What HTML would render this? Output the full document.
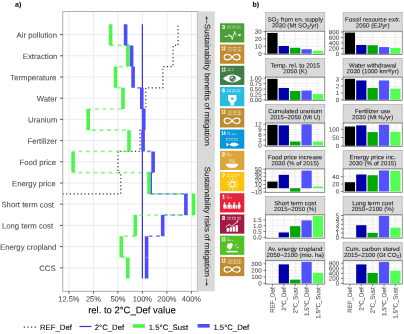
<!DOCTYPE html>
<html><head><meta charset="utf-8"><style>
html,body{margin:0;padding:0;background:#fff;overflow:hidden;}
svg{display:block;will-change:transform;font-family:"Liberation Sans",sans-serif;}
</style></head><body>
<svg xmlns="http://www.w3.org/2000/svg" width="404" height="334" viewBox="0 0 404 334" font-family="Liberation Sans, sans-serif">
<rect width="404" height="334" fill="#fff"/>
<rect x="62.8" y="11.4" width="134.5" height="279.90000000000003" fill="#fff"/>
<line x1="68.90" y1="11.4" x2="68.90" y2="291.3" stroke="#ebebeb" stroke-width="1"/>
<line x1="93.40" y1="11.4" x2="93.40" y2="291.3" stroke="#ebebeb" stroke-width="1"/>
<line x1="117.90" y1="11.4" x2="117.90" y2="291.3" stroke="#ebebeb" stroke-width="1"/>
<line x1="142.40" y1="11.4" x2="142.40" y2="291.3" stroke="#ebebeb" stroke-width="1"/>
<line x1="166.90" y1="11.4" x2="166.90" y2="291.3" stroke="#ebebeb" stroke-width="1"/>
<line x1="191.40" y1="11.4" x2="191.40" y2="291.3" stroke="#ebebeb" stroke-width="1"/>
<line x1="62.8" y1="34.60" x2="197.3" y2="34.60" stroke="#ebebeb" stroke-width="1"/>
<line x1="62.8" y1="55.80" x2="197.3" y2="55.80" stroke="#ebebeb" stroke-width="1"/>
<line x1="62.8" y1="77.00" x2="197.3" y2="77.00" stroke="#ebebeb" stroke-width="1"/>
<line x1="62.8" y1="98.20" x2="197.3" y2="98.20" stroke="#ebebeb" stroke-width="1"/>
<line x1="62.8" y1="119.40" x2="197.3" y2="119.40" stroke="#ebebeb" stroke-width="1"/>
<line x1="62.8" y1="140.60" x2="197.3" y2="140.60" stroke="#ebebeb" stroke-width="1"/>
<line x1="62.8" y1="161.80" x2="197.3" y2="161.80" stroke="#ebebeb" stroke-width="1"/>
<line x1="62.8" y1="183.00" x2="197.3" y2="183.00" stroke="#ebebeb" stroke-width="1"/>
<line x1="62.8" y1="204.20" x2="197.3" y2="204.20" stroke="#ebebeb" stroke-width="1"/>
<line x1="62.8" y1="225.40" x2="197.3" y2="225.40" stroke="#ebebeb" stroke-width="1"/>
<line x1="62.8" y1="246.60" x2="197.3" y2="246.60" stroke="#ebebeb" stroke-width="1"/>
<line x1="62.8" y1="267.80" x2="197.3" y2="267.80" stroke="#ebebeb" stroke-width="1"/>
<clipPath id="pa"><rect x="62.8" y="11.4" width="134.5" height="279.90000000000003"/></clipPath>
<g clip-path="url(#pa)">
<path d="M178.1,24.2 V45.4 H173.1 V66.6 H162.9 V87.8 H145.8 V109.0 H144.0 V130.2 H140.0 V151.39999999999998 H118.0 V172.6 H120.8 V193.79999999999998 H40.0" fill="none" stroke="#333" stroke-width="1.2" stroke-dasharray="1.2 2.45" stroke-dashoffset="2.4"/>
<line x1="142.4" y1="24.2" x2="142.4" y2="278.59999999999997" stroke="#3535d0" stroke-width="1.2"/>
<line x1="125.6" y1="45.40" x2="131.6" y2="45.40" stroke="#4d4dff" stroke-width="1.7" stroke-dasharray="3.75 3.75" stroke-dashoffset="0.00" opacity="0.65"/>
<line x1="131.6" y1="66.60" x2="133.1" y2="66.60" stroke="#4d4dff" stroke-width="1.7" stroke-dasharray="3.75 3.75" stroke-dashoffset="0.00" opacity="0.65"/>
<line x1="133.1" y1="87.80" x2="141.8" y2="87.80" stroke="#4d4dff" stroke-width="1.7" stroke-dasharray="3.75 3.75" stroke-dashoffset="3.30" opacity="0.65"/>
<line x1="141.8" y1="109.00" x2="143.8" y2="109.00" stroke="#4d4dff" stroke-width="1.7" stroke-dasharray="3.75 3.75" stroke-dashoffset="0.00" opacity="0.65"/>
<line x1="143.1" y1="130.20" x2="143.8" y2="130.20" stroke="#4d4dff" stroke-width="1.7" stroke-dasharray="3.75 3.75" stroke-dashoffset="0.00" opacity="0.65"/>
<line x1="143.1" y1="151.40" x2="153.1" y2="151.40" stroke="#4d4dff" stroke-width="1.7" stroke-dasharray="3.75 3.75" stroke-dashoffset="3.60" opacity="0.65"/>
<line x1="150.2" y1="172.60" x2="153.1" y2="172.60" stroke="#4d4dff" stroke-width="1.7" stroke-dasharray="3.75 3.75" stroke-dashoffset="0.00" opacity="0.65"/>
<line x1="150.2" y1="193.80" x2="185.9" y2="193.80" stroke="#4d4dff" stroke-width="1.7" stroke-dasharray="3.75 3.75" stroke-dashoffset="7.15" opacity="0.65"/>
<line x1="162.7" y1="215.00" x2="185.9" y2="215.00" stroke="#4d4dff" stroke-width="1.7" stroke-dasharray="3.75 3.75" stroke-dashoffset="6.20" opacity="0.65"/>
<line x1="146.6" y1="236.20" x2="162.7" y2="236.20" stroke="#4d4dff" stroke-width="1.7" stroke-dasharray="3.75 3.75" stroke-dashoffset="5.40" opacity="0.65"/>
<line x1="110.6" y1="45.40" x2="127.9" y2="45.40" stroke="#4cf54c" stroke-width="1.7" stroke-dasharray="3.75 3.75" stroke-dashoffset="0.40" opacity="0.65"/>
<line x1="115.5" y1="66.60" x2="127.9" y2="66.60" stroke="#4cf54c" stroke-width="1.7" stroke-dasharray="3.75 3.75" stroke-dashoffset="3.90" opacity="0.65"/>
<line x1="115.5" y1="87.80" x2="123.0" y2="87.80" stroke="#4cf54c" stroke-width="1.7" stroke-dasharray="3.75 3.75" stroke-dashoffset="5.50" opacity="0.65"/>
<line x1="88.2" y1="109.00" x2="123.0" y2="109.00" stroke="#4cf54c" stroke-width="1.7" stroke-dasharray="3.75 3.75" stroke-dashoffset="0.60" opacity="0.65"/>
<line x1="88.2" y1="130.20" x2="129.0" y2="130.20" stroke="#4cf54c" stroke-width="1.7" stroke-dasharray="3.75 3.75" stroke-dashoffset="3.60" opacity="0.65"/>
<line x1="73.1" y1="151.40" x2="129.0" y2="151.40" stroke="#4cf54c" stroke-width="1.7" stroke-dasharray="3.75 3.75" stroke-dashoffset="2.10" opacity="0.65"/>
<line x1="73.1" y1="172.60" x2="149.0" y2="172.60" stroke="#4cf54c" stroke-width="1.7" stroke-dasharray="3.75 3.75" stroke-dashoffset="2.10" opacity="0.65"/>
<line x1="149.0" y1="193.80" x2="193.6" y2="193.80" stroke="#4cf54c" stroke-width="1.7" stroke-dasharray="3.75 3.75" stroke-dashoffset="2.00" opacity="0.65"/>
<line x1="135.3" y1="215.00" x2="193.6" y2="215.00" stroke="#4cf54c" stroke-width="1.7" stroke-dasharray="3.75 3.75" stroke-dashoffset="3.30" opacity="0.65"/>
<line x1="121.3" y1="236.20" x2="135.3" y2="236.20" stroke="#4cf54c" stroke-width="1.7" stroke-dasharray="3.75 3.75" stroke-dashoffset="4.80" opacity="0.65"/>
<line x1="121.3" y1="257.40" x2="127.8" y2="257.40" stroke="#4cf54c" stroke-width="1.7" stroke-dasharray="3.75 3.75" stroke-dashoffset="6.80" opacity="0.65"/>
<line x1="125.6" y1="24.2" x2="125.6" y2="45.4" stroke="#4d4dff" stroke-width="3.6"/>
<line x1="131.6" y1="45.4" x2="131.6" y2="66.6" stroke="#4d4dff" stroke-width="3.6"/>
<line x1="133.1" y1="66.6" x2="133.1" y2="87.8" stroke="#4d4dff" stroke-width="3.6"/>
<line x1="141.8" y1="87.8" x2="141.8" y2="109.0" stroke="#4d4dff" stroke-width="3.6"/>
<line x1="143.8" y1="109.0" x2="143.8" y2="130.2" stroke="#4d4dff" stroke-width="3.6"/>
<line x1="143.1" y1="130.2" x2="143.1" y2="151.39999999999998" stroke="#4d4dff" stroke-width="3.6"/>
<line x1="153.1" y1="151.39999999999998" x2="153.1" y2="172.6" stroke="#4d4dff" stroke-width="3.6"/>
<line x1="150.2" y1="172.6" x2="150.2" y2="193.79999999999998" stroke="#4d4dff" stroke-width="3.6"/>
<line x1="185.9" y1="193.79999999999998" x2="185.9" y2="214.99999999999997" stroke="#4d4dff" stroke-width="3.6"/>
<line x1="162.7" y1="214.99999999999997" x2="162.7" y2="236.2" stroke="#4d4dff" stroke-width="3.6"/>
<line x1="146.6" y1="236.2" x2="146.6" y2="257.4" stroke="#4d4dff" stroke-width="3.6"/>
<line x1="146.6" y1="257.4" x2="146.6" y2="278.59999999999997" stroke="#4d4dff" stroke-width="3.6"/>
<line x1="110.6" y1="24.2" x2="110.6" y2="45.4" stroke="#4cf54c" stroke-width="3.6"/>
<line x1="127.9" y1="45.4" x2="127.9" y2="66.6" stroke="#4cf54c" stroke-width="3.6"/>
<line x1="115.5" y1="66.6" x2="115.5" y2="87.8" stroke="#4cf54c" stroke-width="3.6"/>
<line x1="123.0" y1="87.8" x2="123.0" y2="109.0" stroke="#4cf54c" stroke-width="3.6"/>
<line x1="88.2" y1="109.0" x2="88.2" y2="130.2" stroke="#4cf54c" stroke-width="3.6"/>
<line x1="129.0" y1="130.2" x2="129.0" y2="151.39999999999998" stroke="#4cf54c" stroke-width="3.6"/>
<line x1="73.1" y1="151.39999999999998" x2="73.1" y2="172.6" stroke="#4cf54c" stroke-width="3.6"/>
<line x1="149.0" y1="172.6" x2="149.0" y2="193.79999999999998" stroke="#4cf54c" stroke-width="3.6"/>
<line x1="193.6" y1="193.79999999999998" x2="193.6" y2="214.99999999999997" stroke="#4cf54c" stroke-width="3.6"/>
<line x1="135.3" y1="214.99999999999997" x2="135.3" y2="236.2" stroke="#4cf54c" stroke-width="3.6"/>
<line x1="121.3" y1="236.2" x2="121.3" y2="257.4" stroke="#4cf54c" stroke-width="3.6"/>
<line x1="127.8" y1="257.4" x2="127.8" y2="278.59999999999997" stroke="#4cf54c" stroke-width="3.6"/>
</g>
<rect x="62.8" y="11.4" width="134.5" height="279.90000000000003" fill="none" stroke="#9a9a9a" stroke-width="0.8"/>
<line x1="60" y1="34.60" x2="62.8" y2="34.60" stroke="#333" stroke-width="0.8"/>
<text x="57.00" y="37.80" text-anchor="end" font-size="7.75" fill="#4d4d4d" stroke="#4d4d4d" stroke-width="0.07" transform="rotate(0.05 57.00 37.80)">Air pollution</text>
<line x1="60" y1="55.80" x2="62.8" y2="55.80" stroke="#333" stroke-width="0.8"/>
<text x="57.30" y="59.00" text-anchor="end" font-size="7.75" fill="#4d4d4d" stroke="#4d4d4d" stroke-width="0.07" transform="rotate(0.05 57.30 59.00)">Extraction</text>
<line x1="60" y1="77.00" x2="62.8" y2="77.00" stroke="#333" stroke-width="0.8"/>
<text x="56.40" y="80.20" text-anchor="end" font-size="7.75" fill="#4d4d4d" stroke="#4d4d4d" stroke-width="0.07" transform="rotate(0.05 56.40 80.20)">Termperature</text>
<line x1="60" y1="98.20" x2="62.8" y2="98.20" stroke="#333" stroke-width="0.8"/>
<text x="57.10" y="101.40" text-anchor="end" font-size="7.75" fill="#4d4d4d" stroke="#4d4d4d" stroke-width="0.07" transform="rotate(0.05 57.10 101.40)">Water</text>
<line x1="60" y1="119.40" x2="62.8" y2="119.40" stroke="#333" stroke-width="0.8"/>
<text x="57.35" y="122.60" text-anchor="end" font-size="7.75" fill="#4d4d4d" stroke="#4d4d4d" stroke-width="0.07" transform="rotate(0.05 57.35 122.60)">Uranium</text>
<line x1="60" y1="140.60" x2="62.8" y2="140.60" stroke="#333" stroke-width="0.8"/>
<text x="57.20" y="143.80" text-anchor="end" font-size="7.75" fill="#4d4d4d" stroke="#4d4d4d" stroke-width="0.07" transform="rotate(0.05 57.20 143.80)">Fertilizer</text>
<line x1="60" y1="161.80" x2="62.8" y2="161.80" stroke="#333" stroke-width="0.8"/>
<text x="56.10" y="165.00" text-anchor="end" font-size="7.75" fill="#4d4d4d" stroke="#4d4d4d" stroke-width="0.07" transform="rotate(0.05 56.10 165.00)">Food price</text>
<line x1="60" y1="183.00" x2="62.8" y2="183.00" stroke="#333" stroke-width="0.8"/>
<text x="55.50" y="186.20" text-anchor="end" font-size="7.75" fill="#4d4d4d" stroke="#4d4d4d" stroke-width="0.07" transform="rotate(0.05 55.50 186.20)">Energy price</text>
<line x1="60" y1="204.20" x2="62.8" y2="204.20" stroke="#333" stroke-width="0.8"/>
<text x="54.00" y="207.40" text-anchor="end" font-size="7.75" fill="#4d4d4d" stroke="#4d4d4d" stroke-width="0.07" transform="rotate(0.05 54.00 207.40)">Short term cost</text>
<line x1="60" y1="225.40" x2="62.8" y2="225.40" stroke="#333" stroke-width="0.8"/>
<text x="53.15" y="228.60" text-anchor="end" font-size="7.75" fill="#4d4d4d" stroke="#4d4d4d" stroke-width="0.07" transform="rotate(0.05 53.15 228.60)">Long term cost</text>
<line x1="60" y1="246.60" x2="62.8" y2="246.60" stroke="#333" stroke-width="0.8"/>
<text x="56.40" y="249.80" text-anchor="end" font-size="7.75" fill="#4d4d4d" stroke="#4d4d4d" stroke-width="0.07" transform="rotate(0.05 56.40 249.80)">Energy cropland</text>
<line x1="60" y1="267.80" x2="62.8" y2="267.80" stroke="#333" stroke-width="0.8"/>
<text x="55.60" y="271.00" text-anchor="end" font-size="7.75" fill="#4d4d4d" stroke="#4d4d4d" stroke-width="0.07" transform="rotate(0.05 55.60 271.00)">CCS</text>
<line x1="68.90" y1="291.3" x2="68.90" y2="293.6" stroke="#333" stroke-width="0.8"/>
<text x="68.90" y="301.6" text-anchor="middle" font-size="7.5" fill="#4d4d4d" stroke="#4d4d4d" stroke-width="0.07" transform="rotate(0.05 68.90 301.6)">12.5%</text>
<line x1="93.40" y1="291.3" x2="93.40" y2="293.6" stroke="#333" stroke-width="0.8"/>
<text x="93.40" y="301.6" text-anchor="middle" font-size="7.5" fill="#4d4d4d" stroke="#4d4d4d" stroke-width="0.07" transform="rotate(0.05 93.40 301.6)">25%</text>
<line x1="117.90" y1="291.3" x2="117.90" y2="293.6" stroke="#333" stroke-width="0.8"/>
<text x="117.90" y="301.6" text-anchor="middle" font-size="7.5" fill="#4d4d4d" stroke="#4d4d4d" stroke-width="0.07" transform="rotate(0.05 117.90 301.6)">50%</text>
<line x1="142.40" y1="291.3" x2="142.40" y2="293.6" stroke="#333" stroke-width="0.8"/>
<text x="142.40" y="301.6" text-anchor="middle" font-size="7.5" fill="#4d4d4d" stroke="#4d4d4d" stroke-width="0.07" transform="rotate(0.05 142.40 301.6)">100%</text>
<line x1="166.90" y1="291.3" x2="166.90" y2="293.6" stroke="#333" stroke-width="0.8"/>
<text x="166.90" y="301.6" text-anchor="middle" font-size="7.5" fill="#4d4d4d" stroke="#4d4d4d" stroke-width="0.07" transform="rotate(0.05 166.90 301.6)">200%</text>
<line x1="191.40" y1="291.3" x2="191.40" y2="293.6" stroke="#333" stroke-width="0.8"/>
<text x="191.40" y="301.6" text-anchor="middle" font-size="7.5" fill="#4d4d4d" stroke="#4d4d4d" stroke-width="0.07" transform="rotate(0.05 191.40 301.6)">400%</text>
<text x="131.95" y="313.2" text-anchor="middle" font-size="9.47" fill="#000" stroke="#000" stroke-width="0.07" transform="rotate(0.05 131.95 313.2)">rel. to 2°C_Def value</text>
<rect x="197.6" y="11.4" width="17.2" height="279.90000000000003" fill="#d9d9d9"/>
<text transform="translate(204.8,24.0) rotate(90) rotate(0.05)" font-size="7.93" fill="#1a1a1a" stroke="#1a1a1a" stroke-width="0.07">Sustainability benefits of mitigation</text>
<path d="M206.6,18 V23.6" fill="none" stroke="#1a1a1a" stroke-width="0.6"/><path d="M206.6,16.1 L205.5,18.7 L207.7,18.7 z" fill="#1a1a1a"/>
<text transform="translate(204.8,166.7) rotate(90) rotate(0.05)" font-size="7.93" fill="#1a1a1a" stroke="#1a1a1a" stroke-width="0.07">Sustainability risks of mitigation</text>
<path d="M206.6,278.6 V284.2" fill="none" stroke="#1a1a1a" stroke-width="0.6"/><path d="M206.6,286.0 L205.5,283.4 L207.7,283.4 z" fill="#1a1a1a"/>
<text x="15.0" y="6.7" font-size="7.0" font-weight="bold" fill="#000" stroke="#000" stroke-width="0.07" transform="rotate(0.05 15.0 6.7)">a)</text>
<text x="252.4" y="6.7" font-size="7.0" font-weight="bold" fill="#000" stroke="#000" stroke-width="0.07" transform="rotate(0.05 252.4 6.7)">b)</text>
<rect x="220.0" y="23.30" width="24.3" height="19.2" fill="#4c9f38"/>
<text x="221.9" y="28.90" font-size="5.6" font-weight="bold" fill="#fff" stroke="#fff" stroke-width="0.07" transform="rotate(0.05 221.9 28.90)">3</text>
<line x1="227.00" y1="26.20" x2="241.50" y2="26.20" stroke="#fff" stroke-width="1.1" stroke-dasharray="0.9 0.5 1.4 0.4 0.7 0.9" opacity="0.55"/>
<line x1="227.00" y1="27.95" x2="241.50" y2="27.95" stroke="#fff" stroke-width="1.1" stroke-dasharray="0.9 0.5 1.4 0.4 0.7 0.9" opacity="0.55"/>
<path d="M224.5,36.5 h3 l1.5,-2 l1.2,2.5 l1,-1.5 l1,4 l2.5,-8 l1.3,4" fill="none" stroke="#fff" stroke-width="0.8"/><path d="M237.5,34.3 h4 l-2,2.2 z" fill="#fff"/>
<rect x="220.0" y="44.54" width="24.3" height="19.2" fill="#bf8b2e"/>
<text x="221.5" y="50.14" font-size="5.6" font-weight="bold" fill="#fff" textLength="4.2" lengthAdjust="spacingAndGlyphs" stroke="#fff" stroke-width="0.07" transform="rotate(0.05 221.5 50.14)">12</text>
<line x1="227.80" y1="47.44" x2="241.30" y2="47.44" stroke="#fff" stroke-width="1.1" stroke-dasharray="0.9 0.5 1.4 0.4 0.7 0.9" opacity="0.55"/>
<line x1="227.80" y1="49.19" x2="241.30" y2="49.19" stroke="#fff" stroke-width="1.1" stroke-dasharray="0.9 0.5 1.4 0.4 0.7 0.9" opacity="0.55"/>
<line x1="227.80" y1="50.94" x2="241.30" y2="50.94" stroke="#fff" stroke-width="1.1" stroke-dasharray="0.9 0.5 1.4 0.4 0.7 0.9" opacity="0.55"/>
<path d="M232.1,57.14 c-2.3,-3.6 -7.9,-3.6 -7.9,0 c0,3.6 5.6,3.6 7.9,0 c2.3,-3.6 7.9,-3.6 7.9,0 c0,3.6 -5.6,3.6 -7.9,0 z" fill="none" stroke="#fff" stroke-width="1.2"/>
<rect x="220.0" y="65.78" width="24.3" height="19.2" fill="#3f7e44"/>
<text x="221.5" y="71.38" font-size="5.6" font-weight="bold" fill="#fff" textLength="4.2" lengthAdjust="spacingAndGlyphs" stroke="#fff" stroke-width="0.07" transform="rotate(0.05 221.5 71.38)">13</text>
<line x1="227.20" y1="68.68" x2="233.70" y2="68.68" stroke="#fff" stroke-width="1.1" stroke-dasharray="0.9 0.5 1.4 0.4 0.7 0.9" opacity="0.55"/>
<line x1="227.20" y1="70.43" x2="233.70" y2="70.43" stroke="#fff" stroke-width="1.1" stroke-dasharray="0.9 0.5 1.4 0.4 0.7 0.9" opacity="0.55"/>
<path d="M223.0,78.58 q9.2,-8 18.4,0 q-9.2,8 -18.4,0 z" fill="#fff"/><circle cx="232.6" cy="78.58" r="3.1" fill="#3f7e44"/><path d="M231.0,76.98 q1.2,-0.8 2.2,0.2 q-0.2,1.2 -1.4,1.2 q-0.4,0.8 -1.2,0.2 z M233.4,78.98 q1,0.2 1.4,1 q-0.6,1 -1.4,0.8 z" fill="#fff" opacity="0.85"/>
<rect x="220.0" y="87.02" width="24.3" height="19.2" fill="#26bde2"/>
<text x="221.9" y="92.62" font-size="5.6" font-weight="bold" fill="#fff" stroke="#fff" stroke-width="0.07" transform="rotate(0.05 221.9 92.62)">6</text>
<line x1="227.00" y1="89.92" x2="241.00" y2="89.92" stroke="#fff" stroke-width="1.1" stroke-dasharray="0.9 0.5 1.4 0.4 0.7 0.9" opacity="0.55"/>
<line x1="227.00" y1="91.67" x2="241.00" y2="91.67" stroke="#fff" stroke-width="1.1" stroke-dasharray="0.9 0.5 1.4 0.4 0.7 0.9" opacity="0.55"/>
<path d="M228.0,95.02 h8.5 v5 l-2.5,3 v2.5 h-3.5 v-2.5 l-2.5,-3 z" fill="#fff"/><circle cx="232.3" cy="98.82" r="1.3" fill="#26bde2"/>
<rect x="220.0" y="108.26" width="24.3" height="19.2" fill="#bf8b2e"/>
<text x="221.5" y="113.86" font-size="5.6" font-weight="bold" fill="#fff" textLength="4.2" lengthAdjust="spacingAndGlyphs" stroke="#fff" stroke-width="0.07" transform="rotate(0.05 221.5 113.86)">12</text>
<line x1="227.80" y1="111.16" x2="241.30" y2="111.16" stroke="#fff" stroke-width="1.1" stroke-dasharray="0.9 0.5 1.4 0.4 0.7 0.9" opacity="0.55"/>
<line x1="227.80" y1="112.91" x2="241.30" y2="112.91" stroke="#fff" stroke-width="1.1" stroke-dasharray="0.9 0.5 1.4 0.4 0.7 0.9" opacity="0.55"/>
<line x1="227.80" y1="114.66" x2="241.30" y2="114.66" stroke="#fff" stroke-width="1.1" stroke-dasharray="0.9 0.5 1.4 0.4 0.7 0.9" opacity="0.55"/>
<path d="M232.1,120.85999999999999 c-2.3,-3.6 -7.9,-3.6 -7.9,0 c0,3.6 5.6,3.6 7.9,0 c2.3,-3.6 7.9,-3.6 7.9,0 c0,3.6 -5.6,3.6 -7.9,0 z" fill="none" stroke="#fff" stroke-width="1.2"/>
<rect x="220.0" y="129.50" width="24.3" height="19.2" fill="#0a97d9"/>
<text x="221.5" y="135.10" font-size="5.6" font-weight="bold" fill="#fff" textLength="4.2" lengthAdjust="spacingAndGlyphs" stroke="#fff" stroke-width="0.07" transform="rotate(0.05 221.5 135.10)">14</text>
<line x1="227.20" y1="132.40" x2="229.70" y2="132.40" stroke="#fff" stroke-width="1.1" stroke-dasharray="0.9 0.5 1.4 0.4 0.7 0.9" opacity="0.55"/>
<line x1="227.20" y1="134.15" x2="237.20" y2="134.15" stroke="#fff" stroke-width="1.1" stroke-dasharray="0.9 0.5 1.4 0.4 0.7 0.9" opacity="0.55"/>
<path d="M226.0,138.5 h12 M226.0,140.1 h12" stroke="#fff" stroke-width="0.6" stroke-dasharray="1 0.6"/><path d="M226.5,142.5 l2.5,2 q5,-4 10,0 q-5,4 -10,0 l-2.5,2 z" fill="#fff"/>
<rect x="220.0" y="150.74" width="24.3" height="19.2" fill="#dda63a"/>
<text x="221.9" y="156.34" font-size="5.6" font-weight="bold" fill="#fff" stroke="#fff" stroke-width="0.07" transform="rotate(0.05 221.9 156.34)">2</text>
<line x1="226.50" y1="153.64" x2="229.50" y2="153.64" stroke="#fff" stroke-width="1.1" stroke-dasharray="0.9 0.5 1.4 0.4 0.7 0.9" opacity="0.55"/>
<line x1="226.50" y1="155.39" x2="232.50" y2="155.39" stroke="#fff" stroke-width="1.1" stroke-dasharray="0.9 0.5 1.4 0.4 0.7 0.9" opacity="0.55"/>
<path d="M225.5,163.74 h13 q-1,4 -6.5,4.5 q-5.5,-0.5 -6.5,-4.5 z" fill="#fff"/><path d="M230.0,159.24 q-1,1 0,2 q1,1 0,2 M232.0,159.24 q-1,1 0,2 q1,1 0,2 M234.0,159.24 q-1,1 0,2 q1,1 0,2" fill="none" stroke="#fff" stroke-width="0.6"/>
<rect x="220.0" y="171.98" width="24.3" height="19.2" fill="#fcc30b"/>
<text x="221.9" y="177.58" font-size="5.6" font-weight="bold" fill="#fff" stroke="#fff" stroke-width="0.07" transform="rotate(0.05 221.9 177.58)">7</text>
<line x1="226.50" y1="174.88" x2="240.50" y2="174.88" stroke="#fff" stroke-width="1.1" stroke-dasharray="0.9 0.5 1.4 0.4 0.7 0.9" opacity="0.55"/>
<line x1="226.50" y1="176.63" x2="236.50" y2="176.63" stroke="#fff" stroke-width="1.1" stroke-dasharray="0.9 0.5 1.4 0.4 0.7 0.9" opacity="0.55"/>
<circle cx="232.5" cy="184.17999999999998" r="2.6" fill="none" stroke="#fff" stroke-width="1.1"/><g stroke="#fff" stroke-width="0.7"><line x1="236.5" y1="184.17999999999998" x2="238.5" y2="184.17999999999998"/><line x1="235.96410249966735" y1="186.179998467949" x2="237.696153749501" y2="187.17999770192353"/><line x1="234.50000306410078" y1="187.64409984607653" x2="235.50000459615117" y2="189.3761497691148"/><line x1="232.50000530717958" y1="188.17999999999645" x2="232.50000796076938" y2="190.1799999999947"/><line x1="230.50000612820625" y1="187.64410515325204" x2="229.5000091923094" y2="189.37615772987806"/><line x1="229.03590280752036" y1="186.180007660249" x2="227.30385421128057" y2="187.18001149037352"/><line x1="228.5000000000141" y1="184.18001061435916" x2="226.50000000002112" y2="184.18001592153874"/><line x1="229.03589219316933" y1="182.18001072436505" x2="227.303838289754" y2="181.18001608654757"/><line x1="230.49998774360625" y1="180.71590546112336" x2="229.4999816154094" y2="178.98385819168504"/><line x1="232.49998407846124" y1="180.18000000003167" x2="232.49997611769186" y2="178.1800000000475"/><line x1="234.49998467947262" y1="180.7158895395968" x2="235.49997701920893" y2="178.9838343093952"/><line x1="235.96409188526752" y1="182.17998314746504" x2="237.69613782790128" y2="181.1799747211976"/></g>
<rect x="220.0" y="193.22" width="24.3" height="19.2" fill="#e5243b"/>
<text x="221.9" y="198.82" font-size="5.6" font-weight="bold" fill="#fff" stroke="#fff" stroke-width="0.07" transform="rotate(0.05 221.9 198.82)">1</text>
<line x1="226.50" y1="196.12" x2="228.50" y2="196.12" stroke="#fff" stroke-width="1.1" stroke-dasharray="0.9 0.5 1.4 0.4 0.7 0.9" opacity="0.55"/>
<line x1="226.50" y1="197.87" x2="232.50" y2="197.87" stroke="#fff" stroke-width="1.1" stroke-dasharray="0.9 0.5 1.4 0.4 0.7 0.9" opacity="0.55"/>
<circle cx="224.6" cy="203.12" r="0.95" fill="#fff"/><path d="M223.5,204.22 h2.2 l0.5,3 h-0.6 v1.6 h-2 v-1.6 h-0.6 z" fill="#fff"/><circle cx="229.4" cy="203.12" r="0.95" fill="#fff"/><path d="M228.3,204.22 h2.2 l0.5,3 h-0.6 v1.6 h-2 v-1.6 h-0.6 z" fill="#fff"/><circle cx="234.2" cy="203.12" r="0.95" fill="#fff"/><path d="M233.1,204.22 h2.2 l0.5,3 h-0.6 v1.6 h-2 v-1.6 h-0.6 z" fill="#fff"/><circle cx="239.2" cy="203.12" r="0.95" fill="#fff"/><path d="M238.1,204.22 h2.2 l0.5,3 h-0.6 v1.6 h-2 v-1.6 h-0.6 z" fill="#fff"/><circle cx="227.0" cy="205.42" r="0.6" fill="#fff"/><rect x="226.4" y="206.12" width="1.2" height="2.6" fill="#fff"/><circle cx="231.8" cy="205.42" r="0.6" fill="#fff"/><rect x="231.20000000000002" y="206.12" width="1.2" height="2.6" fill="#fff"/><circle cx="236.7" cy="205.42" r="0.6" fill="#fff"/><rect x="236.1" y="206.12" width="1.2" height="2.6" fill="#fff"/>
<rect x="220.0" y="214.46" width="24.3" height="19.2" fill="#a21942"/>
<text x="221.9" y="220.06" font-size="5.6" font-weight="bold" fill="#fff" stroke="#fff" stroke-width="0.07" transform="rotate(0.05 221.9 220.06)">8</text>
<line x1="227.30" y1="217.36" x2="241.30" y2="217.36" stroke="#fff" stroke-width="1.1" stroke-dasharray="0.9 0.5 1.4 0.4 0.7 0.9" opacity="0.55"/>
<line x1="227.30" y1="219.11" x2="241.30" y2="219.11" stroke="#fff" stroke-width="1.1" stroke-dasharray="0.9 0.5 1.4 0.4 0.7 0.9" opacity="0.55"/>
<rect x="226.6" y="228.06" width="2.3" height="3.6" fill="#fff"/><rect x="229.6" y="227.35999999999999" width="2.3" height="4.3" fill="#fff"/><rect x="232.6" y="226.46" width="2.3" height="5.2" fill="#fff"/><rect x="235.6" y="225.26" width="2.3" height="6.4" fill="#fff"/><path d="M225.6,227.06 l3.6,-2.6 l2.6,1.8 l5.6,-4.4" fill="none" stroke="#fff" stroke-width="0.8"/><path d="M236.2,221.06 l2.2,-0.7 l-0.6,2.2 z" fill="#fff"/>
<rect x="220.0" y="235.70" width="24.3" height="19.2" fill="#56c02b"/>
<text x="221.5" y="241.30" font-size="5.6" font-weight="bold" fill="#fff" textLength="4.2" lengthAdjust="spacingAndGlyphs" stroke="#fff" stroke-width="0.07" transform="rotate(0.05 221.5 241.30)">15</text>
<line x1="227.30" y1="238.60" x2="229.30" y2="238.60" stroke="#fff" stroke-width="1.1" stroke-dasharray="0.9 0.5 1.4 0.4 0.7 0.9" opacity="0.55"/>
<line x1="227.30" y1="240.35" x2="233.30" y2="240.35" stroke="#fff" stroke-width="1.1" stroke-dasharray="0.9 0.5 1.4 0.4 0.7 0.9" opacity="0.55"/>
<circle cx="229.5" cy="246.2" r="2.6" fill="#fff"/><circle cx="231.0" cy="244.89999999999998" r="1.8" fill="#fff"/><rect x="229.5" y="247.7" width="0.7" height="3" fill="#fff"/><rect x="226.5" y="250.89999999999998" width="11" height="1.4" fill="#fff"/><path d="M235.0,245.7 l2,-1 M236.5,247.7 l2,-0.3" stroke="#fff" stroke-width="0.6"/>
<rect x="220.0" y="256.94" width="24.3" height="19.2" fill="#bf8b2e"/>
<text x="221.5" y="262.54" font-size="5.6" font-weight="bold" fill="#fff" textLength="4.2" lengthAdjust="spacingAndGlyphs" stroke="#fff" stroke-width="0.07" transform="rotate(0.05 221.5 262.54)">12</text>
<line x1="227.80" y1="259.84" x2="241.30" y2="259.84" stroke="#fff" stroke-width="1.1" stroke-dasharray="0.9 0.5 1.4 0.4 0.7 0.9" opacity="0.55"/>
<line x1="227.80" y1="261.59" x2="241.30" y2="261.59" stroke="#fff" stroke-width="1.1" stroke-dasharray="0.9 0.5 1.4 0.4 0.7 0.9" opacity="0.55"/>
<line x1="227.80" y1="263.34" x2="241.30" y2="263.34" stroke="#fff" stroke-width="1.1" stroke-dasharray="0.9 0.5 1.4 0.4 0.7 0.9" opacity="0.55"/>
<path d="M232.1,269.54 c-2.3,-3.6 -7.9,-3.6 -7.9,0 c0,3.6 5.6,3.6 7.9,0 c2.3,-3.6 7.9,-3.6 7.9,0 c0,3.6 -5.6,3.6 -7.9,0 z" fill="none" stroke="#fff" stroke-width="1.2"/>
<rect x="265.6" y="12.6" width="59.20" height="18.6" fill="#d9d9d9" stroke="#a6a6a6" stroke-width="0.6"/>
<text x="295.20" y="21.50" text-anchor="middle" font-size="6.2" fill="#1a1a1a" stroke="#1a1a1a" stroke-width="0.07" transform="rotate(0.05 295.20 21.50)">SO<tspan font-size="4.7" dy="1.1">2</tspan><tspan dy="-1.1"> from en. supply</tspan></text>
<text x="295.20" y="27.40" text-anchor="middle" font-size="6.2" fill="#1a1a1a" stroke="#1a1a1a" stroke-width="0.07" transform="rotate(0.05 295.20 27.40)">2030 (Mt SO<tspan font-size="4.7" dy="1.1">2</tspan><tspan dy="-1.1">/yr)</tspan></text>
<rect x="265.6" y="31.200000000000003" width="59.20" height="23.3" fill="#fff"/>
<line x1="265.6" y1="50.00" x2="324.8" y2="50.00" stroke="#ebebeb" stroke-width="0.4"/>
<line x1="265.6" y1="42.60" x2="324.8" y2="42.60" stroke="#ebebeb" stroke-width="0.4"/>
<line x1="265.6" y1="35.20" x2="324.8" y2="35.20" stroke="#ebebeb" stroke-width="0.4"/>
<line x1="265.6" y1="53.70" x2="324.8" y2="53.70" stroke="#ebebeb" stroke-width="0.8"/>
<line x1="265.6" y1="46.30" x2="324.8" y2="46.30" stroke="#ebebeb" stroke-width="0.8"/>
<line x1="265.6" y1="38.90" x2="324.8" y2="38.90" stroke="#ebebeb" stroke-width="0.8"/>
<line x1="265.6" y1="31.50" x2="324.8" y2="31.50" stroke="#ebebeb" stroke-width="0.8"/>
<line x1="272.43" y1="31.200000000000003" x2="272.43" y2="54.5" stroke="#ebebeb" stroke-width="0.8"/>
<line x1="283.82" y1="31.200000000000003" x2="283.82" y2="54.5" stroke="#ebebeb" stroke-width="0.8"/>
<line x1="295.20" y1="31.200000000000003" x2="295.20" y2="54.5" stroke="#ebebeb" stroke-width="0.8"/>
<line x1="306.58" y1="31.200000000000003" x2="306.58" y2="54.5" stroke="#ebebeb" stroke-width="0.8"/>
<line x1="317.97" y1="31.200000000000003" x2="317.97" y2="54.5" stroke="#ebebeb" stroke-width="0.8"/>
<rect x="267.31" y="32.91" width="10.25" height="20.79" fill="#000000"/>
<rect x="278.69" y="46.00" width="10.25" height="7.70" fill="#0000a8"/>
<rect x="290.08" y="47.78" width="10.25" height="5.92" fill="#00a800"/>
<rect x="301.46" y="49.19" width="10.25" height="4.51" fill="#5252ff"/>
<rect x="312.85" y="50.74" width="10.25" height="2.96" fill="#52ff52"/>
<rect x="265.6" y="31.200000000000003" width="59.20" height="23.3" fill="none" stroke="#4d4d4d" stroke-width="0.6"/>
<line x1="263.40000000000003" y1="53.70" x2="265.6" y2="53.70" stroke="#333" stroke-width="0.6"/>
<text x="261.70" y="55.90" text-anchor="end" font-size="6.2" fill="#4d4d4d" stroke="#4d4d4d" stroke-width="0.07" transform="rotate(0.05 261.70 55.90)">0</text>
<line x1="263.40000000000003" y1="46.30" x2="265.6" y2="46.30" stroke="#333" stroke-width="0.6"/>
<text x="261.70" y="48.50" text-anchor="end" font-size="6.2" fill="#4d4d4d" stroke="#4d4d4d" stroke-width="0.07" transform="rotate(0.05 261.70 48.50)">10</text>
<line x1="263.40000000000003" y1="38.90" x2="265.6" y2="38.90" stroke="#333" stroke-width="0.6"/>
<text x="261.70" y="41.10" text-anchor="end" font-size="6.2" fill="#4d4d4d" stroke="#4d4d4d" stroke-width="0.07" transform="rotate(0.05 261.70 41.10)">20</text>
<line x1="263.40000000000003" y1="31.50" x2="265.6" y2="31.50" stroke="#333" stroke-width="0.6"/>
<text x="261.70" y="33.70" text-anchor="end" font-size="6.2" fill="#4d4d4d" stroke="#4d4d4d" stroke-width="0.07" transform="rotate(0.05 261.70 33.70)">30</text>
<rect x="343.1" y="12.6" width="59.10" height="18.6" fill="#d9d9d9" stroke="#a6a6a6" stroke-width="0.6"/>
<text x="372.65" y="21.50" text-anchor="middle" font-size="6.2" fill="#1a1a1a" stroke="#1a1a1a" stroke-width="0.07" transform="rotate(0.05 372.65 21.50)">Fossil resource extr.</text>
<text x="372.65" y="27.40" text-anchor="middle" font-size="6.2" fill="#1a1a1a" stroke="#1a1a1a" stroke-width="0.07" transform="rotate(0.05 372.65 27.40)">2050 (EJ/yr)</text>
<rect x="343.1" y="31.200000000000003" width="59.10" height="23.3" fill="#fff"/>
<line x1="343.1" y1="51.16" x2="402.2" y2="51.16" stroke="#ebebeb" stroke-width="0.4"/>
<line x1="343.1" y1="45.69" x2="402.2" y2="45.69" stroke="#ebebeb" stroke-width="0.4"/>
<line x1="343.1" y1="40.21" x2="402.2" y2="40.21" stroke="#ebebeb" stroke-width="0.4"/>
<line x1="343.1" y1="34.74" x2="402.2" y2="34.74" stroke="#ebebeb" stroke-width="0.4"/>
<line x1="343.1" y1="53.90" x2="402.2" y2="53.90" stroke="#ebebeb" stroke-width="0.8"/>
<line x1="343.1" y1="48.42" x2="402.2" y2="48.42" stroke="#ebebeb" stroke-width="0.8"/>
<line x1="343.1" y1="42.95" x2="402.2" y2="42.95" stroke="#ebebeb" stroke-width="0.8"/>
<line x1="343.1" y1="37.48" x2="402.2" y2="37.48" stroke="#ebebeb" stroke-width="0.8"/>
<line x1="343.1" y1="32.00" x2="402.2" y2="32.00" stroke="#ebebeb" stroke-width="0.8"/>
<line x1="349.92" y1="31.200000000000003" x2="349.92" y2="54.5" stroke="#ebebeb" stroke-width="0.8"/>
<line x1="361.28" y1="31.200000000000003" x2="361.28" y2="54.5" stroke="#ebebeb" stroke-width="0.8"/>
<line x1="372.65" y1="31.200000000000003" x2="372.65" y2="54.5" stroke="#ebebeb" stroke-width="0.8"/>
<line x1="384.02" y1="31.200000000000003" x2="384.02" y2="54.5" stroke="#ebebeb" stroke-width="0.8"/>
<line x1="395.38" y1="31.200000000000003" x2="395.38" y2="54.5" stroke="#ebebeb" stroke-width="0.8"/>
<rect x="344.80" y="32.60" width="10.23" height="21.30" fill="#000000"/>
<rect x="356.17" y="44.95" width="10.23" height="8.95" fill="#0000a8"/>
<rect x="367.54" y="45.25" width="10.23" height="8.65" fill="#00a800"/>
<rect x="378.90" y="47.06" width="10.23" height="6.84" fill="#5252ff"/>
<rect x="390.27" y="47.88" width="10.23" height="6.02" fill="#52ff52"/>
<rect x="343.1" y="31.200000000000003" width="59.10" height="23.3" fill="none" stroke="#4d4d4d" stroke-width="0.6"/>
<line x1="340.90000000000003" y1="53.90" x2="343.1" y2="53.90" stroke="#333" stroke-width="0.6"/>
<text x="339.20" y="56.10" text-anchor="end" font-size="6.2" fill="#4d4d4d" stroke="#4d4d4d" stroke-width="0.07" transform="rotate(0.05 339.20 56.10)">0</text>
<line x1="340.90000000000003" y1="48.42" x2="343.1" y2="48.42" stroke="#333" stroke-width="0.6"/>
<text x="339.20" y="50.62" text-anchor="end" font-size="6.2" fill="#4d4d4d" stroke="#4d4d4d" stroke-width="0.07" transform="rotate(0.05 339.20 50.62)">200</text>
<line x1="340.90000000000003" y1="42.95" x2="343.1" y2="42.95" stroke="#333" stroke-width="0.6"/>
<text x="339.20" y="45.15" text-anchor="end" font-size="6.2" fill="#4d4d4d" stroke="#4d4d4d" stroke-width="0.07" transform="rotate(0.05 339.20 45.15)">400</text>
<line x1="340.90000000000003" y1="37.48" x2="343.1" y2="37.48" stroke="#333" stroke-width="0.6"/>
<text x="339.20" y="39.68" text-anchor="end" font-size="6.2" fill="#4d4d4d" stroke="#4d4d4d" stroke-width="0.07" transform="rotate(0.05 339.20 39.68)">600</text>
<line x1="340.90000000000003" y1="32.00" x2="343.1" y2="32.00" stroke="#333" stroke-width="0.6"/>
<text x="339.20" y="34.20" text-anchor="end" font-size="6.2" fill="#4d4d4d" stroke="#4d4d4d" stroke-width="0.07" transform="rotate(0.05 339.20 34.20)">800</text>
<rect x="265.6" y="58.52" width="59.20" height="18.6" fill="#d9d9d9" stroke="#a6a6a6" stroke-width="0.6"/>
<text x="295.20" y="67.42" text-anchor="middle" font-size="6.2" fill="#1a1a1a" stroke="#1a1a1a" stroke-width="0.07" transform="rotate(0.05 295.20 67.42)">Temp. rel. to 2015</text>
<text x="295.20" y="73.32" text-anchor="middle" font-size="6.2" fill="#1a1a1a" stroke="#1a1a1a" stroke-width="0.07" transform="rotate(0.05 295.20 73.32)">2050 (K)</text>
<rect x="265.6" y="77.12" width="59.20" height="23.3" fill="#fff"/>
<line x1="265.6" y1="97.19" x2="324.8" y2="97.19" stroke="#ebebeb" stroke-width="0.4"/>
<line x1="265.6" y1="91.76" x2="324.8" y2="91.76" stroke="#ebebeb" stroke-width="0.4"/>
<line x1="265.6" y1="86.34" x2="324.8" y2="86.34" stroke="#ebebeb" stroke-width="0.4"/>
<line x1="265.6" y1="80.91" x2="324.8" y2="80.91" stroke="#ebebeb" stroke-width="0.4"/>
<line x1="265.6" y1="99.90" x2="324.8" y2="99.90" stroke="#ebebeb" stroke-width="0.8"/>
<line x1="265.6" y1="94.48" x2="324.8" y2="94.48" stroke="#ebebeb" stroke-width="0.8"/>
<line x1="265.6" y1="89.05" x2="324.8" y2="89.05" stroke="#ebebeb" stroke-width="0.8"/>
<line x1="265.6" y1="83.62" x2="324.8" y2="83.62" stroke="#ebebeb" stroke-width="0.8"/>
<line x1="265.6" y1="78.20" x2="324.8" y2="78.20" stroke="#ebebeb" stroke-width="0.8"/>
<line x1="272.43" y1="77.12" x2="272.43" y2="100.42" stroke="#ebebeb" stroke-width="0.8"/>
<line x1="283.82" y1="77.12" x2="283.82" y2="100.42" stroke="#ebebeb" stroke-width="0.8"/>
<line x1="295.20" y1="77.12" x2="295.20" y2="100.42" stroke="#ebebeb" stroke-width="0.8"/>
<line x1="306.58" y1="77.12" x2="306.58" y2="100.42" stroke="#ebebeb" stroke-width="0.8"/>
<line x1="317.97" y1="77.12" x2="317.97" y2="100.42" stroke="#ebebeb" stroke-width="0.8"/>
<rect x="267.31" y="78.85" width="10.25" height="21.05" fill="#000000"/>
<rect x="278.69" y="87.97" width="10.25" height="11.94" fill="#0000a8"/>
<rect x="290.08" y="91.00" width="10.25" height="8.90" fill="#00a800"/>
<rect x="301.46" y="90.57" width="10.25" height="9.33" fill="#5252ff"/>
<rect x="312.85" y="94.04" width="10.25" height="5.86" fill="#52ff52"/>
<rect x="265.6" y="77.12" width="59.20" height="23.3" fill="none" stroke="#4d4d4d" stroke-width="0.6"/>
<line x1="263.40000000000003" y1="99.90" x2="265.6" y2="99.90" stroke="#333" stroke-width="0.6"/>
<text x="261.70" y="102.10" text-anchor="end" font-size="6.2" fill="#4d4d4d" stroke="#4d4d4d" stroke-width="0.07" transform="rotate(0.05 261.70 102.10)">0.00</text>
<line x1="263.40000000000003" y1="94.48" x2="265.6" y2="94.48" stroke="#333" stroke-width="0.6"/>
<text x="261.70" y="96.68" text-anchor="end" font-size="6.2" fill="#4d4d4d" stroke="#4d4d4d" stroke-width="0.07" transform="rotate(0.05 261.70 96.68)">0.25</text>
<line x1="263.40000000000003" y1="89.05" x2="265.6" y2="89.05" stroke="#333" stroke-width="0.6"/>
<text x="261.70" y="91.25" text-anchor="end" font-size="6.2" fill="#4d4d4d" stroke="#4d4d4d" stroke-width="0.07" transform="rotate(0.05 261.70 91.25)">0.50</text>
<line x1="263.40000000000003" y1="83.62" x2="265.6" y2="83.62" stroke="#333" stroke-width="0.6"/>
<text x="261.70" y="85.83" text-anchor="end" font-size="6.2" fill="#4d4d4d" stroke="#4d4d4d" stroke-width="0.07" transform="rotate(0.05 261.70 85.83)">0.75</text>
<line x1="263.40000000000003" y1="78.20" x2="265.6" y2="78.20" stroke="#333" stroke-width="0.6"/>
<text x="261.70" y="80.40" text-anchor="end" font-size="6.2" fill="#4d4d4d" stroke="#4d4d4d" stroke-width="0.07" transform="rotate(0.05 261.70 80.40)">1.00</text>
<rect x="343.1" y="58.52" width="59.10" height="18.6" fill="#d9d9d9" stroke="#a6a6a6" stroke-width="0.6"/>
<text x="372.65" y="67.42" text-anchor="middle" font-size="6.2" fill="#1a1a1a" stroke="#1a1a1a" stroke-width="0.07" transform="rotate(0.05 372.65 67.42)">Water withdrawal</text>
<text x="372.65" y="73.32" text-anchor="middle" font-size="6.2" fill="#1a1a1a" stroke="#1a1a1a" stroke-width="0.07" transform="rotate(0.05 372.65 73.32)">2030 (1000 km³/yr)</text>
<rect x="343.1" y="77.12" width="59.10" height="23.3" fill="#fff"/>
<line x1="343.1" y1="96.37" x2="402.2" y2="96.37" stroke="#ebebeb" stroke-width="0.4"/>
<line x1="343.1" y1="89.50" x2="402.2" y2="89.50" stroke="#ebebeb" stroke-width="0.4"/>
<line x1="343.1" y1="82.63" x2="402.2" y2="82.63" stroke="#ebebeb" stroke-width="0.4"/>
<line x1="343.1" y1="99.80" x2="402.2" y2="99.80" stroke="#ebebeb" stroke-width="0.8"/>
<line x1="343.1" y1="92.93" x2="402.2" y2="92.93" stroke="#ebebeb" stroke-width="0.8"/>
<line x1="343.1" y1="86.07" x2="402.2" y2="86.07" stroke="#ebebeb" stroke-width="0.8"/>
<line x1="343.1" y1="79.20" x2="402.2" y2="79.20" stroke="#ebebeb" stroke-width="0.8"/>
<line x1="349.92" y1="77.12" x2="349.92" y2="100.42" stroke="#ebebeb" stroke-width="0.8"/>
<line x1="361.28" y1="77.12" x2="361.28" y2="100.42" stroke="#ebebeb" stroke-width="0.8"/>
<line x1="372.65" y1="77.12" x2="372.65" y2="100.42" stroke="#ebebeb" stroke-width="0.8"/>
<line x1="384.02" y1="77.12" x2="384.02" y2="100.42" stroke="#ebebeb" stroke-width="0.8"/>
<line x1="395.38" y1="77.12" x2="395.38" y2="100.42" stroke="#ebebeb" stroke-width="0.8"/>
<rect x="344.80" y="78.79" width="10.23" height="21.01" fill="#000000"/>
<rect x="356.17" y="80.44" width="10.23" height="19.36" fill="#0000a8"/>
<rect x="367.54" y="87.99" width="10.23" height="11.81" fill="#00a800"/>
<rect x="378.90" y="80.44" width="10.23" height="19.36" fill="#5252ff"/>
<rect x="390.27" y="88.61" width="10.23" height="11.19" fill="#52ff52"/>
<rect x="343.1" y="77.12" width="59.10" height="23.3" fill="none" stroke="#4d4d4d" stroke-width="0.6"/>
<line x1="340.90000000000003" y1="99.80" x2="343.1" y2="99.80" stroke="#333" stroke-width="0.6"/>
<text x="339.20" y="102.00" text-anchor="end" font-size="6.2" fill="#4d4d4d" stroke="#4d4d4d" stroke-width="0.07" transform="rotate(0.05 339.20 102.00)">0</text>
<line x1="340.90000000000003" y1="92.93" x2="343.1" y2="92.93" stroke="#333" stroke-width="0.6"/>
<text x="339.20" y="95.13" text-anchor="end" font-size="6.2" fill="#4d4d4d" stroke="#4d4d4d" stroke-width="0.07" transform="rotate(0.05 339.20 95.13)">1</text>
<line x1="340.90000000000003" y1="86.07" x2="343.1" y2="86.07" stroke="#333" stroke-width="0.6"/>
<text x="339.20" y="88.27" text-anchor="end" font-size="6.2" fill="#4d4d4d" stroke="#4d4d4d" stroke-width="0.07" transform="rotate(0.05 339.20 88.27)">2</text>
<line x1="340.90000000000003" y1="79.20" x2="343.1" y2="79.20" stroke="#333" stroke-width="0.6"/>
<text x="339.20" y="81.40" text-anchor="end" font-size="6.2" fill="#4d4d4d" stroke="#4d4d4d" stroke-width="0.07" transform="rotate(0.05 339.20 81.40)">3</text>
<rect x="265.6" y="104.44" width="59.20" height="18.6" fill="#d9d9d9" stroke="#a6a6a6" stroke-width="0.6"/>
<text x="295.20" y="113.34" text-anchor="middle" font-size="6.2" fill="#1a1a1a" stroke="#1a1a1a" stroke-width="0.07" transform="rotate(0.05 295.20 113.34)">Cumulated uranium</text>
<text x="295.20" y="119.24" text-anchor="middle" font-size="6.2" fill="#1a1a1a" stroke="#1a1a1a" stroke-width="0.07" transform="rotate(0.05 295.20 119.24)">2015−2050 (Mt U)</text>
<rect x="265.6" y="123.03999999999999" width="59.20" height="23.3" fill="#fff"/>
<line x1="265.6" y1="142.76" x2="324.8" y2="142.76" stroke="#ebebeb" stroke-width="0.4"/>
<line x1="265.6" y1="137.49" x2="324.8" y2="137.49" stroke="#ebebeb" stroke-width="0.4"/>
<line x1="265.6" y1="132.21" x2="324.8" y2="132.21" stroke="#ebebeb" stroke-width="0.4"/>
<line x1="265.6" y1="126.94" x2="324.8" y2="126.94" stroke="#ebebeb" stroke-width="0.4"/>
<line x1="265.6" y1="145.40" x2="324.8" y2="145.40" stroke="#ebebeb" stroke-width="0.8"/>
<line x1="265.6" y1="140.12" x2="324.8" y2="140.12" stroke="#ebebeb" stroke-width="0.8"/>
<line x1="265.6" y1="134.85" x2="324.8" y2="134.85" stroke="#ebebeb" stroke-width="0.8"/>
<line x1="265.6" y1="129.57" x2="324.8" y2="129.57" stroke="#ebebeb" stroke-width="0.8"/>
<line x1="265.6" y1="124.30" x2="324.8" y2="124.30" stroke="#ebebeb" stroke-width="0.8"/>
<line x1="272.43" y1="123.03999999999999" x2="272.43" y2="146.34" stroke="#ebebeb" stroke-width="0.8"/>
<line x1="283.82" y1="123.03999999999999" x2="283.82" y2="146.34" stroke="#ebebeb" stroke-width="0.8"/>
<line x1="295.20" y1="123.03999999999999" x2="295.20" y2="146.34" stroke="#ebebeb" stroke-width="0.8"/>
<line x1="306.58" y1="123.03999999999999" x2="306.58" y2="146.34" stroke="#ebebeb" stroke-width="0.8"/>
<line x1="317.97" y1="123.03999999999999" x2="317.97" y2="146.34" stroke="#ebebeb" stroke-width="0.8"/>
<rect x="267.31" y="124.83" width="10.25" height="20.57" fill="#000000"/>
<rect x="278.69" y="125.35" width="10.25" height="20.05" fill="#0000a8"/>
<rect x="290.08" y="141.53" width="10.25" height="3.87" fill="#00a800"/>
<rect x="301.46" y="124.30" width="10.25" height="21.10" fill="#5252ff"/>
<rect x="312.85" y="141.53" width="10.25" height="3.87" fill="#52ff52"/>
<rect x="265.6" y="123.03999999999999" width="59.20" height="23.3" fill="none" stroke="#4d4d4d" stroke-width="0.6"/>
<line x1="263.40000000000003" y1="145.40" x2="265.6" y2="145.40" stroke="#333" stroke-width="0.6"/>
<text x="261.70" y="147.60" text-anchor="end" font-size="6.2" fill="#4d4d4d" stroke="#4d4d4d" stroke-width="0.07" transform="rotate(0.05 261.70 147.60)">0</text>
<line x1="263.40000000000003" y1="140.12" x2="265.6" y2="140.12" stroke="#333" stroke-width="0.6"/>
<text x="261.70" y="142.32" text-anchor="end" font-size="6.2" fill="#4d4d4d" stroke="#4d4d4d" stroke-width="0.07" transform="rotate(0.05 261.70 142.32)">3</text>
<line x1="263.40000000000003" y1="134.85" x2="265.6" y2="134.85" stroke="#333" stroke-width="0.6"/>
<text x="261.70" y="137.05" text-anchor="end" font-size="6.2" fill="#4d4d4d" stroke="#4d4d4d" stroke-width="0.07" transform="rotate(0.05 261.70 137.05)">6</text>
<line x1="263.40000000000003" y1="129.57" x2="265.6" y2="129.57" stroke="#333" stroke-width="0.6"/>
<text x="261.70" y="131.77" text-anchor="end" font-size="6.2" fill="#4d4d4d" stroke="#4d4d4d" stroke-width="0.07" transform="rotate(0.05 261.70 131.77)">9</text>
<line x1="263.40000000000003" y1="124.30" x2="265.6" y2="124.30" stroke="#333" stroke-width="0.6"/>
<text x="261.70" y="126.50" text-anchor="end" font-size="6.2" fill="#4d4d4d" stroke="#4d4d4d" stroke-width="0.07" transform="rotate(0.05 261.70 126.50)">12</text>
<rect x="343.1" y="104.44" width="59.10" height="18.6" fill="#d9d9d9" stroke="#a6a6a6" stroke-width="0.6"/>
<text x="372.65" y="113.34" text-anchor="middle" font-size="6.2" fill="#1a1a1a" stroke="#1a1a1a" stroke-width="0.07" transform="rotate(0.05 372.65 113.34)">Fertilizer use</text>
<text x="372.65" y="119.24" text-anchor="middle" font-size="6.2" fill="#1a1a1a" stroke="#1a1a1a" stroke-width="0.07" transform="rotate(0.05 372.65 119.24)">2030 (Mt N<tspan font-size="4.7" dy="1.1">r</tspan><tspan dy="-1.1">/yr)</tspan></text>
<rect x="343.1" y="123.03999999999999" width="59.10" height="23.3" fill="#fff"/>
<line x1="343.1" y1="141.68" x2="402.2" y2="141.68" stroke="#ebebeb" stroke-width="0.4"/>
<line x1="343.1" y1="133.43" x2="402.2" y2="133.43" stroke="#ebebeb" stroke-width="0.4"/>
<line x1="343.1" y1="145.80" x2="402.2" y2="145.80" stroke="#ebebeb" stroke-width="0.8"/>
<line x1="343.1" y1="137.55" x2="402.2" y2="137.55" stroke="#ebebeb" stroke-width="0.8"/>
<line x1="343.1" y1="129.30" x2="402.2" y2="129.30" stroke="#ebebeb" stroke-width="0.8"/>
<line x1="349.92" y1="123.03999999999999" x2="349.92" y2="146.34" stroke="#ebebeb" stroke-width="0.8"/>
<line x1="361.28" y1="123.03999999999999" x2="361.28" y2="146.34" stroke="#ebebeb" stroke-width="0.8"/>
<line x1="372.65" y1="123.03999999999999" x2="372.65" y2="146.34" stroke="#ebebeb" stroke-width="0.8"/>
<line x1="384.02" y1="123.03999999999999" x2="384.02" y2="146.34" stroke="#ebebeb" stroke-width="0.8"/>
<line x1="395.38" y1="123.03999999999999" x2="395.38" y2="146.34" stroke="#ebebeb" stroke-width="0.8"/>
<rect x="344.80" y="126.50" width="10.23" height="19.31" fill="#000000"/>
<rect x="356.17" y="125.34" width="10.23" height="20.46" fill="#0000a8"/>
<rect x="367.54" y="132.11" width="10.23" height="13.69" fill="#00a800"/>
<rect x="378.90" y="124.68" width="10.23" height="21.12" fill="#5252ff"/>
<rect x="390.27" y="131.78" width="10.23" height="14.03" fill="#52ff52"/>
<rect x="343.1" y="123.03999999999999" width="59.10" height="23.3" fill="none" stroke="#4d4d4d" stroke-width="0.6"/>
<line x1="340.90000000000003" y1="145.80" x2="343.1" y2="145.80" stroke="#333" stroke-width="0.6"/>
<text x="339.20" y="148.00" text-anchor="end" font-size="6.2" fill="#4d4d4d" stroke="#4d4d4d" stroke-width="0.07" transform="rotate(0.05 339.20 148.00)">0</text>
<line x1="340.90000000000003" y1="137.55" x2="343.1" y2="137.55" stroke="#333" stroke-width="0.6"/>
<text x="339.20" y="139.75" text-anchor="end" font-size="6.2" fill="#4d4d4d" stroke="#4d4d4d" stroke-width="0.07" transform="rotate(0.05 339.20 139.75)">50</text>
<line x1="340.90000000000003" y1="129.30" x2="343.1" y2="129.30" stroke="#333" stroke-width="0.6"/>
<text x="339.20" y="131.50" text-anchor="end" font-size="6.2" fill="#4d4d4d" stroke="#4d4d4d" stroke-width="0.07" transform="rotate(0.05 339.20 131.50)">100</text>
<rect x="265.6" y="150.35999999999999" width="59.20" height="18.6" fill="#d9d9d9" stroke="#a6a6a6" stroke-width="0.6"/>
<text x="295.20" y="159.26" text-anchor="middle" font-size="6.2" fill="#1a1a1a" stroke="#1a1a1a" stroke-width="0.07" transform="rotate(0.05 295.20 159.26)">Food price increase</text>
<text x="295.20" y="165.16" text-anchor="middle" font-size="6.2" fill="#1a1a1a" stroke="#1a1a1a" stroke-width="0.07" transform="rotate(0.05 295.20 165.16)">2030 (% of 2015)</text>
<rect x="265.6" y="168.95999999999998" width="59.20" height="23.3" fill="#fff"/>
<line x1="265.6" y1="190.11" x2="324.8" y2="190.11" stroke="#ebebeb" stroke-width="0.4"/>
<line x1="265.6" y1="186.29" x2="324.8" y2="186.29" stroke="#ebebeb" stroke-width="0.4"/>
<line x1="265.6" y1="182.47" x2="324.8" y2="182.47" stroke="#ebebeb" stroke-width="0.4"/>
<line x1="265.6" y1="178.65" x2="324.8" y2="178.65" stroke="#ebebeb" stroke-width="0.4"/>
<line x1="265.6" y1="174.83" x2="324.8" y2="174.83" stroke="#ebebeb" stroke-width="0.4"/>
<line x1="265.6" y1="171.01" x2="324.8" y2="171.01" stroke="#ebebeb" stroke-width="0.4"/>
<line x1="265.6" y1="192.02" x2="324.8" y2="192.02" stroke="#ebebeb" stroke-width="0.8"/>
<line x1="265.6" y1="188.20" x2="324.8" y2="188.20" stroke="#ebebeb" stroke-width="0.8"/>
<line x1="265.6" y1="184.38" x2="324.8" y2="184.38" stroke="#ebebeb" stroke-width="0.8"/>
<line x1="265.6" y1="180.56" x2="324.8" y2="180.56" stroke="#ebebeb" stroke-width="0.8"/>
<line x1="265.6" y1="176.74" x2="324.8" y2="176.74" stroke="#ebebeb" stroke-width="0.8"/>
<line x1="265.6" y1="172.92" x2="324.8" y2="172.92" stroke="#ebebeb" stroke-width="0.8"/>
<line x1="265.6" y1="169.10" x2="324.8" y2="169.10" stroke="#ebebeb" stroke-width="0.8"/>
<line x1="272.43" y1="168.95999999999998" x2="272.43" y2="192.26" stroke="#ebebeb" stroke-width="0.8"/>
<line x1="283.82" y1="168.95999999999998" x2="283.82" y2="192.26" stroke="#ebebeb" stroke-width="0.8"/>
<line x1="295.20" y1="168.95999999999998" x2="295.20" y2="192.26" stroke="#ebebeb" stroke-width="0.8"/>
<line x1="306.58" y1="168.95999999999998" x2="306.58" y2="192.26" stroke="#ebebeb" stroke-width="0.8"/>
<line x1="317.97" y1="168.95999999999998" x2="317.97" y2="192.26" stroke="#ebebeb" stroke-width="0.8"/>
<rect x="267.31" y="181.59" width="10.25" height="6.61" fill="#000000"/>
<rect x="278.69" y="174.83" width="10.25" height="13.37" fill="#0000a8"/>
<rect x="290.08" y="188.20" width="10.25" height="3.44" fill="#00a800"/>
<rect x="301.46" y="170.63" width="10.25" height="17.57" fill="#5252ff"/>
<rect x="312.85" y="186.48" width="10.25" height="1.72" fill="#52ff52"/>
<rect x="265.6" y="168.95999999999998" width="59.20" height="23.3" fill="none" stroke="#4d4d4d" stroke-width="0.6"/>
<line x1="263.40000000000003" y1="192.02" x2="265.6" y2="192.02" stroke="#333" stroke-width="0.6"/>
<text x="261.70" y="194.22" text-anchor="end" font-size="6.2" fill="#4d4d4d" stroke="#4d4d4d" stroke-width="0.07" transform="rotate(0.05 261.70 194.22)">−10</text>
<line x1="263.40000000000003" y1="188.20" x2="265.6" y2="188.20" stroke="#333" stroke-width="0.6"/>
<text x="261.70" y="190.40" text-anchor="end" font-size="6.2" fill="#4d4d4d" stroke="#4d4d4d" stroke-width="0.07" transform="rotate(0.05 261.70 190.40)">0</text>
<line x1="263.40000000000003" y1="184.38" x2="265.6" y2="184.38" stroke="#333" stroke-width="0.6"/>
<text x="261.70" y="186.58" text-anchor="end" font-size="6.2" fill="#4d4d4d" stroke="#4d4d4d" stroke-width="0.07" transform="rotate(0.05 261.70 186.58)">10</text>
<line x1="263.40000000000003" y1="180.56" x2="265.6" y2="180.56" stroke="#333" stroke-width="0.6"/>
<text x="261.70" y="182.76" text-anchor="end" font-size="6.2" fill="#4d4d4d" stroke="#4d4d4d" stroke-width="0.07" transform="rotate(0.05 261.70 182.76)">20</text>
<line x1="263.40000000000003" y1="176.74" x2="265.6" y2="176.74" stroke="#333" stroke-width="0.6"/>
<text x="261.70" y="178.94" text-anchor="end" font-size="6.2" fill="#4d4d4d" stroke="#4d4d4d" stroke-width="0.07" transform="rotate(0.05 261.70 178.94)">30</text>
<line x1="263.40000000000003" y1="172.92" x2="265.6" y2="172.92" stroke="#333" stroke-width="0.6"/>
<text x="261.70" y="175.12" text-anchor="end" font-size="6.2" fill="#4d4d4d" stroke="#4d4d4d" stroke-width="0.07" transform="rotate(0.05 261.70 175.12)">40</text>
<line x1="263.40000000000003" y1="169.10" x2="265.6" y2="169.10" stroke="#333" stroke-width="0.6"/>
<text x="261.70" y="171.30" text-anchor="end" font-size="6.2" fill="#4d4d4d" stroke="#4d4d4d" stroke-width="0.07" transform="rotate(0.05 261.70 171.30)">50</text>
<rect x="343.1" y="150.35999999999999" width="59.10" height="18.6" fill="#d9d9d9" stroke="#a6a6a6" stroke-width="0.6"/>
<text x="372.65" y="159.26" text-anchor="middle" font-size="6.2" fill="#1a1a1a" stroke="#1a1a1a" stroke-width="0.07" transform="rotate(0.05 372.65 159.26)">Energy price inc.</text>
<text x="372.65" y="165.16" text-anchor="middle" font-size="6.2" fill="#1a1a1a" stroke="#1a1a1a" stroke-width="0.07" transform="rotate(0.05 372.65 165.16)">2030 (% of 2015)</text>
<rect x="343.1" y="168.95999999999998" width="59.10" height="23.3" fill="#fff"/>
<line x1="343.1" y1="187.73" x2="402.2" y2="187.73" stroke="#ebebeb" stroke-width="0.4"/>
<line x1="343.1" y1="180.38" x2="402.2" y2="180.38" stroke="#ebebeb" stroke-width="0.4"/>
<line x1="343.1" y1="191.40" x2="402.2" y2="191.40" stroke="#ebebeb" stroke-width="0.8"/>
<line x1="343.1" y1="184.05" x2="402.2" y2="184.05" stroke="#ebebeb" stroke-width="0.8"/>
<line x1="343.1" y1="176.70" x2="402.2" y2="176.70" stroke="#ebebeb" stroke-width="0.8"/>
<line x1="349.92" y1="168.95999999999998" x2="349.92" y2="192.26" stroke="#ebebeb" stroke-width="0.8"/>
<line x1="361.28" y1="168.95999999999998" x2="361.28" y2="192.26" stroke="#ebebeb" stroke-width="0.8"/>
<line x1="372.65" y1="168.95999999999998" x2="372.65" y2="192.26" stroke="#ebebeb" stroke-width="0.8"/>
<line x1="384.02" y1="168.95999999999998" x2="384.02" y2="192.26" stroke="#ebebeb" stroke-width="0.8"/>
<line x1="395.38" y1="168.95999999999998" x2="395.38" y2="192.26" stroke="#ebebeb" stroke-width="0.8"/>
<rect x="344.80" y="182.21" width="10.23" height="9.19" fill="#000000"/>
<rect x="356.17" y="174.49" width="10.23" height="16.91" fill="#0000a8"/>
<rect x="367.54" y="175.23" width="10.23" height="16.17" fill="#00a800"/>
<rect x="378.90" y="170.45" width="10.23" height="20.95" fill="#5252ff"/>
<rect x="390.27" y="170.82" width="10.23" height="20.58" fill="#52ff52"/>
<rect x="343.1" y="168.95999999999998" width="59.10" height="23.3" fill="none" stroke="#4d4d4d" stroke-width="0.6"/>
<line x1="340.90000000000003" y1="191.40" x2="343.1" y2="191.40" stroke="#333" stroke-width="0.6"/>
<text x="339.20" y="193.60" text-anchor="end" font-size="6.2" fill="#4d4d4d" stroke="#4d4d4d" stroke-width="0.07" transform="rotate(0.05 339.20 193.60)">0</text>
<line x1="340.90000000000003" y1="184.05" x2="343.1" y2="184.05" stroke="#333" stroke-width="0.6"/>
<text x="339.20" y="186.25" text-anchor="end" font-size="6.2" fill="#4d4d4d" stroke="#4d4d4d" stroke-width="0.07" transform="rotate(0.05 339.20 186.25)">20</text>
<line x1="340.90000000000003" y1="176.70" x2="343.1" y2="176.70" stroke="#333" stroke-width="0.6"/>
<text x="339.20" y="178.90" text-anchor="end" font-size="6.2" fill="#4d4d4d" stroke="#4d4d4d" stroke-width="0.07" transform="rotate(0.05 339.20 178.90)">40</text>
<rect x="265.6" y="196.28" width="59.20" height="18.6" fill="#d9d9d9" stroke="#a6a6a6" stroke-width="0.6"/>
<text x="295.20" y="205.18" text-anchor="middle" font-size="6.2" fill="#1a1a1a" stroke="#1a1a1a" stroke-width="0.07" transform="rotate(0.05 295.20 205.18)">Short term cost</text>
<text x="295.20" y="211.08" text-anchor="middle" font-size="6.2" fill="#1a1a1a" stroke="#1a1a1a" stroke-width="0.07" transform="rotate(0.05 295.20 211.08)">2015−2050 (%)</text>
<rect x="265.6" y="214.88" width="59.20" height="23.3" fill="#fff"/>
<line x1="265.6" y1="234.40" x2="324.8" y2="234.40" stroke="#ebebeb" stroke-width="0.4"/>
<line x1="265.6" y1="228.60" x2="324.8" y2="228.60" stroke="#ebebeb" stroke-width="0.4"/>
<line x1="265.6" y1="222.80" x2="324.8" y2="222.80" stroke="#ebebeb" stroke-width="0.4"/>
<line x1="265.6" y1="237.30" x2="324.8" y2="237.30" stroke="#ebebeb" stroke-width="0.8"/>
<line x1="265.6" y1="231.50" x2="324.8" y2="231.50" stroke="#ebebeb" stroke-width="0.8"/>
<line x1="265.6" y1="225.70" x2="324.8" y2="225.70" stroke="#ebebeb" stroke-width="0.8"/>
<line x1="265.6" y1="219.90" x2="324.8" y2="219.90" stroke="#ebebeb" stroke-width="0.8"/>
<line x1="272.43" y1="214.88" x2="272.43" y2="238.18" stroke="#ebebeb" stroke-width="0.8"/>
<line x1="283.82" y1="214.88" x2="283.82" y2="238.18" stroke="#ebebeb" stroke-width="0.8"/>
<line x1="295.20" y1="214.88" x2="295.20" y2="238.18" stroke="#ebebeb" stroke-width="0.8"/>
<line x1="306.58" y1="214.88" x2="306.58" y2="238.18" stroke="#ebebeb" stroke-width="0.8"/>
<line x1="317.97" y1="214.88" x2="317.97" y2="238.18" stroke="#ebebeb" stroke-width="0.8"/>
<rect x="278.69" y="232.43" width="10.25" height="4.87" fill="#0000a8"/>
<rect x="290.08" y="226.16" width="10.25" height="11.14" fill="#00a800"/>
<rect x="301.46" y="220.36" width="10.25" height="16.94" fill="#5252ff"/>
<rect x="312.85" y="215.96" width="10.25" height="21.34" fill="#52ff52"/>
<rect x="265.6" y="214.88" width="59.20" height="23.3" fill="none" stroke="#4d4d4d" stroke-width="0.6"/>
<line x1="263.40000000000003" y1="237.30" x2="265.6" y2="237.30" stroke="#333" stroke-width="0.6"/>
<text x="261.70" y="239.50" text-anchor="end" font-size="6.2" fill="#4d4d4d" stroke="#4d4d4d" stroke-width="0.07" transform="rotate(0.05 261.70 239.50)">0.0</text>
<line x1="263.40000000000003" y1="231.50" x2="265.6" y2="231.50" stroke="#333" stroke-width="0.6"/>
<text x="261.70" y="233.70" text-anchor="end" font-size="6.2" fill="#4d4d4d" stroke="#4d4d4d" stroke-width="0.07" transform="rotate(0.05 261.70 233.70)">0.5</text>
<line x1="263.40000000000003" y1="225.70" x2="265.6" y2="225.70" stroke="#333" stroke-width="0.6"/>
<text x="261.70" y="227.90" text-anchor="end" font-size="6.2" fill="#4d4d4d" stroke="#4d4d4d" stroke-width="0.07" transform="rotate(0.05 261.70 227.90)">1.0</text>
<line x1="263.40000000000003" y1="219.90" x2="265.6" y2="219.90" stroke="#333" stroke-width="0.6"/>
<text x="261.70" y="222.10" text-anchor="end" font-size="6.2" fill="#4d4d4d" stroke="#4d4d4d" stroke-width="0.07" transform="rotate(0.05 261.70 222.10)">1.5</text>
<rect x="343.1" y="196.28" width="59.10" height="18.6" fill="#d9d9d9" stroke="#a6a6a6" stroke-width="0.6"/>
<text x="372.65" y="205.18" text-anchor="middle" font-size="6.2" fill="#1a1a1a" stroke="#1a1a1a" stroke-width="0.07" transform="rotate(0.05 372.65 205.18)">Long term cost</text>
<text x="372.65" y="211.08" text-anchor="middle" font-size="6.2" fill="#1a1a1a" stroke="#1a1a1a" stroke-width="0.07" transform="rotate(0.05 372.65 211.08)">2050−2100 (%)</text>
<rect x="343.1" y="214.88" width="59.10" height="23.3" fill="#fff"/>
<line x1="343.1" y1="235.30" x2="402.2" y2="235.30" stroke="#ebebeb" stroke-width="0.4"/>
<line x1="343.1" y1="230.90" x2="402.2" y2="230.90" stroke="#ebebeb" stroke-width="0.4"/>
<line x1="343.1" y1="226.50" x2="402.2" y2="226.50" stroke="#ebebeb" stroke-width="0.4"/>
<line x1="343.1" y1="222.10" x2="402.2" y2="222.10" stroke="#ebebeb" stroke-width="0.4"/>
<line x1="343.1" y1="217.70" x2="402.2" y2="217.70" stroke="#ebebeb" stroke-width="0.4"/>
<line x1="343.1" y1="237.50" x2="402.2" y2="237.50" stroke="#ebebeb" stroke-width="0.8"/>
<line x1="343.1" y1="233.10" x2="402.2" y2="233.10" stroke="#ebebeb" stroke-width="0.8"/>
<line x1="343.1" y1="228.70" x2="402.2" y2="228.70" stroke="#ebebeb" stroke-width="0.8"/>
<line x1="343.1" y1="224.30" x2="402.2" y2="224.30" stroke="#ebebeb" stroke-width="0.8"/>
<line x1="343.1" y1="219.90" x2="402.2" y2="219.90" stroke="#ebebeb" stroke-width="0.8"/>
<line x1="343.1" y1="215.50" x2="402.2" y2="215.50" stroke="#ebebeb" stroke-width="0.8"/>
<line x1="349.92" y1="214.88" x2="349.92" y2="238.18" stroke="#ebebeb" stroke-width="0.8"/>
<line x1="361.28" y1="214.88" x2="361.28" y2="238.18" stroke="#ebebeb" stroke-width="0.8"/>
<line x1="372.65" y1="214.88" x2="372.65" y2="238.18" stroke="#ebebeb" stroke-width="0.8"/>
<line x1="384.02" y1="214.88" x2="384.02" y2="238.18" stroke="#ebebeb" stroke-width="0.8"/>
<line x1="395.38" y1="214.88" x2="395.38" y2="238.18" stroke="#ebebeb" stroke-width="0.8"/>
<rect x="356.17" y="225.18" width="10.23" height="12.32" fill="#0000a8"/>
<rect x="367.54" y="232.88" width="10.23" height="4.62" fill="#00a800"/>
<rect x="378.90" y="215.94" width="10.23" height="21.56" fill="#5252ff"/>
<rect x="390.27" y="227.60" width="10.23" height="9.90" fill="#52ff52"/>
<rect x="343.1" y="214.88" width="59.10" height="23.3" fill="none" stroke="#4d4d4d" stroke-width="0.6"/>
<line x1="340.90000000000003" y1="237.50" x2="343.1" y2="237.50" stroke="#333" stroke-width="0.6"/>
<text x="339.20" y="239.70" text-anchor="end" font-size="6.2" fill="#4d4d4d" stroke="#4d4d4d" stroke-width="0.07" transform="rotate(0.05 339.20 239.70)">0</text>
<line x1="340.90000000000003" y1="233.10" x2="343.1" y2="233.10" stroke="#333" stroke-width="0.6"/>
<text x="339.20" y="235.30" text-anchor="end" font-size="6.2" fill="#4d4d4d" stroke="#4d4d4d" stroke-width="0.07" transform="rotate(0.05 339.20 235.30)">1</text>
<line x1="340.90000000000003" y1="228.70" x2="343.1" y2="228.70" stroke="#333" stroke-width="0.6"/>
<text x="339.20" y="230.90" text-anchor="end" font-size="6.2" fill="#4d4d4d" stroke="#4d4d4d" stroke-width="0.07" transform="rotate(0.05 339.20 230.90)">2</text>
<line x1="340.90000000000003" y1="224.30" x2="343.1" y2="224.30" stroke="#333" stroke-width="0.6"/>
<text x="339.20" y="226.50" text-anchor="end" font-size="6.2" fill="#4d4d4d" stroke="#4d4d4d" stroke-width="0.07" transform="rotate(0.05 339.20 226.50)">3</text>
<line x1="340.90000000000003" y1="219.90" x2="343.1" y2="219.90" stroke="#333" stroke-width="0.6"/>
<text x="339.20" y="222.10" text-anchor="end" font-size="6.2" fill="#4d4d4d" stroke="#4d4d4d" stroke-width="0.07" transform="rotate(0.05 339.20 222.10)">4</text>
<line x1="340.90000000000003" y1="215.50" x2="343.1" y2="215.50" stroke="#333" stroke-width="0.6"/>
<text x="339.20" y="217.70" text-anchor="end" font-size="6.2" fill="#4d4d4d" stroke="#4d4d4d" stroke-width="0.07" transform="rotate(0.05 339.20 217.70)">5</text>
<rect x="265.6" y="242.20000000000002" width="59.20" height="18.6" fill="#d9d9d9" stroke="#a6a6a6" stroke-width="0.6"/>
<text x="295.20" y="251.10" text-anchor="middle" font-size="6.2" fill="#1a1a1a" stroke="#1a1a1a" stroke-width="0.07" transform="rotate(0.05 295.20 251.10)">Av. energy cropland</text>
<text x="295.20" y="257.00" text-anchor="middle" font-size="6.2" fill="#1a1a1a" stroke="#1a1a1a" stroke-width="0.07" transform="rotate(0.05 295.20 257.00)">2050−2100 (mio. ha)</text>
<rect x="265.6" y="260.8" width="59.20" height="23.3" fill="#fff"/>
<line x1="265.6" y1="280.13" x2="324.8" y2="280.13" stroke="#ebebeb" stroke-width="0.4"/>
<line x1="265.6" y1="273.60" x2="324.8" y2="273.60" stroke="#ebebeb" stroke-width="0.4"/>
<line x1="265.6" y1="267.07" x2="324.8" y2="267.07" stroke="#ebebeb" stroke-width="0.4"/>
<line x1="265.6" y1="283.40" x2="324.8" y2="283.40" stroke="#ebebeb" stroke-width="0.8"/>
<line x1="265.6" y1="276.87" x2="324.8" y2="276.87" stroke="#ebebeb" stroke-width="0.8"/>
<line x1="265.6" y1="270.33" x2="324.8" y2="270.33" stroke="#ebebeb" stroke-width="0.8"/>
<line x1="265.6" y1="263.80" x2="324.8" y2="263.80" stroke="#ebebeb" stroke-width="0.8"/>
<line x1="272.43" y1="260.8" x2="272.43" y2="284.1" stroke="#ebebeb" stroke-width="0.8"/>
<line x1="283.82" y1="260.8" x2="283.82" y2="284.1" stroke="#ebebeb" stroke-width="0.8"/>
<line x1="295.20" y1="260.8" x2="295.20" y2="284.1" stroke="#ebebeb" stroke-width="0.8"/>
<line x1="306.58" y1="260.8" x2="306.58" y2="284.1" stroke="#ebebeb" stroke-width="0.8"/>
<line x1="317.97" y1="260.8" x2="317.97" y2="284.1" stroke="#ebebeb" stroke-width="0.8"/>
<rect x="278.69" y="264.39" width="10.25" height="19.01" fill="#0000a8"/>
<rect x="290.08" y="279.61" width="10.25" height="3.79" fill="#00a800"/>
<rect x="301.46" y="261.91" width="10.25" height="21.49" fill="#5252ff"/>
<rect x="312.85" y="272.82" width="10.25" height="10.58" fill="#52ff52"/>
<rect x="265.6" y="260.8" width="59.20" height="23.3" fill="none" stroke="#4d4d4d" stroke-width="0.6"/>
<line x1="263.40000000000003" y1="283.40" x2="265.6" y2="283.40" stroke="#333" stroke-width="0.6"/>
<text x="261.70" y="285.60" text-anchor="end" font-size="6.2" fill="#4d4d4d" stroke="#4d4d4d" stroke-width="0.07" transform="rotate(0.05 261.70 285.60)">0</text>
<line x1="263.40000000000003" y1="276.87" x2="265.6" y2="276.87" stroke="#333" stroke-width="0.6"/>
<text x="261.70" y="279.07" text-anchor="end" font-size="6.2" fill="#4d4d4d" stroke="#4d4d4d" stroke-width="0.07" transform="rotate(0.05 261.70 279.07)">100</text>
<line x1="263.40000000000003" y1="270.33" x2="265.6" y2="270.33" stroke="#333" stroke-width="0.6"/>
<text x="261.70" y="272.53" text-anchor="end" font-size="6.2" fill="#4d4d4d" stroke="#4d4d4d" stroke-width="0.07" transform="rotate(0.05 261.70 272.53)">200</text>
<line x1="263.40000000000003" y1="263.80" x2="265.6" y2="263.80" stroke="#333" stroke-width="0.6"/>
<text x="261.70" y="266.00" text-anchor="end" font-size="6.2" fill="#4d4d4d" stroke="#4d4d4d" stroke-width="0.07" transform="rotate(0.05 261.70 266.00)">300</text>
<line x1="272.43" y1="284.1" x2="272.43" y2="286.3" stroke="#333" stroke-width="0.6"/>
<text transform="translate(274.63,287.30) rotate(-90) rotate(0.05)" text-anchor="end" font-size="6.2" fill="#4d4d4d" stroke="#4d4d4d" stroke-width="0.07">REF_Def</text>
<line x1="283.82" y1="284.1" x2="283.82" y2="286.3" stroke="#333" stroke-width="0.6"/>
<text transform="translate(286.02,287.30) rotate(-90) rotate(0.05)" text-anchor="end" font-size="6.2" fill="#4d4d4d" stroke="#4d4d4d" stroke-width="0.07">2°C_Def</text>
<line x1="295.20" y1="284.1" x2="295.20" y2="286.3" stroke="#333" stroke-width="0.6"/>
<text transform="translate(297.40,287.30) rotate(-90) rotate(0.05)" text-anchor="end" font-size="6.2" fill="#4d4d4d" stroke="#4d4d4d" stroke-width="0.07">2°C_Sust</text>
<line x1="306.58" y1="284.1" x2="306.58" y2="286.3" stroke="#333" stroke-width="0.6"/>
<text transform="translate(308.78,287.30) rotate(-90) rotate(0.05)" text-anchor="end" font-size="6.2" fill="#4d4d4d" stroke="#4d4d4d" stroke-width="0.07">1.5°C_Def</text>
<line x1="317.97" y1="284.1" x2="317.97" y2="286.3" stroke="#333" stroke-width="0.6"/>
<text transform="translate(320.17,287.30) rotate(-90) rotate(0.05)" text-anchor="end" font-size="6.2" fill="#4d4d4d" stroke="#4d4d4d" stroke-width="0.07">1.5°C_Sust</text>
<rect x="343.1" y="242.20000000000002" width="59.10" height="18.6" fill="#d9d9d9" stroke="#a6a6a6" stroke-width="0.6"/>
<text x="372.65" y="251.10" text-anchor="middle" font-size="6.2" fill="#1a1a1a" stroke="#1a1a1a" stroke-width="0.07" transform="rotate(0.05 372.65 251.10)">Cum. carbon stored</text>
<text x="372.65" y="257.00" text-anchor="middle" font-size="6.2" fill="#1a1a1a" stroke="#1a1a1a" stroke-width="0.07" transform="rotate(0.05 372.65 257.00)">2015−2100 (Gt CO<tspan font-size="4.7" dy="1.1">2</tspan><tspan dy="-1.1">)</tspan></text>
<rect x="343.1" y="260.8" width="59.10" height="23.3" fill="#fff"/>
<line x1="343.1" y1="280.88" x2="402.2" y2="280.88" stroke="#ebebeb" stroke-width="0.4"/>
<line x1="343.1" y1="275.82" x2="402.2" y2="275.82" stroke="#ebebeb" stroke-width="0.4"/>
<line x1="343.1" y1="270.77" x2="402.2" y2="270.77" stroke="#ebebeb" stroke-width="0.4"/>
<line x1="343.1" y1="265.73" x2="402.2" y2="265.73" stroke="#ebebeb" stroke-width="0.4"/>
<line x1="343.1" y1="283.40" x2="402.2" y2="283.40" stroke="#ebebeb" stroke-width="0.8"/>
<line x1="343.1" y1="278.35" x2="402.2" y2="278.35" stroke="#ebebeb" stroke-width="0.8"/>
<line x1="343.1" y1="273.30" x2="402.2" y2="273.30" stroke="#ebebeb" stroke-width="0.8"/>
<line x1="343.1" y1="268.25" x2="402.2" y2="268.25" stroke="#ebebeb" stroke-width="0.8"/>
<line x1="343.1" y1="263.20" x2="402.2" y2="263.20" stroke="#ebebeb" stroke-width="0.8"/>
<line x1="349.92" y1="260.8" x2="349.92" y2="284.1" stroke="#ebebeb" stroke-width="0.8"/>
<line x1="361.28" y1="260.8" x2="361.28" y2="284.1" stroke="#ebebeb" stroke-width="0.8"/>
<line x1="372.65" y1="260.8" x2="372.65" y2="284.1" stroke="#ebebeb" stroke-width="0.8"/>
<line x1="384.02" y1="260.8" x2="384.02" y2="284.1" stroke="#ebebeb" stroke-width="0.8"/>
<line x1="395.38" y1="260.8" x2="395.38" y2="284.1" stroke="#ebebeb" stroke-width="0.8"/>
<rect x="356.17" y="264.41" width="10.23" height="18.99" fill="#0000a8"/>
<rect x="367.54" y="273.00" width="10.23" height="10.40" fill="#00a800"/>
<rect x="378.90" y="261.91" width="10.23" height="21.49" fill="#5252ff"/>
<rect x="390.27" y="270.70" width="10.23" height="12.70" fill="#52ff52"/>
<rect x="343.1" y="260.8" width="59.10" height="23.3" fill="none" stroke="#4d4d4d" stroke-width="0.6"/>
<line x1="340.90000000000003" y1="283.40" x2="343.1" y2="283.40" stroke="#333" stroke-width="0.6"/>
<text x="339.20" y="285.60" text-anchor="end" font-size="6.2" fill="#4d4d4d" stroke="#4d4d4d" stroke-width="0.07" transform="rotate(0.05 339.20 285.60)">0</text>
<line x1="340.90000000000003" y1="278.35" x2="343.1" y2="278.35" stroke="#333" stroke-width="0.6"/>
<text x="339.20" y="280.55" text-anchor="end" font-size="6.2" fill="#4d4d4d" stroke="#4d4d4d" stroke-width="0.07" transform="rotate(0.05 339.20 280.55)">200</text>
<line x1="340.90000000000003" y1="273.30" x2="343.1" y2="273.30" stroke="#333" stroke-width="0.6"/>
<text x="339.20" y="275.50" text-anchor="end" font-size="6.2" fill="#4d4d4d" stroke="#4d4d4d" stroke-width="0.07" transform="rotate(0.05 339.20 275.50)">400</text>
<line x1="340.90000000000003" y1="268.25" x2="343.1" y2="268.25" stroke="#333" stroke-width="0.6"/>
<text x="339.20" y="270.45" text-anchor="end" font-size="6.2" fill="#4d4d4d" stroke="#4d4d4d" stroke-width="0.07" transform="rotate(0.05 339.20 270.45)">600</text>
<line x1="340.90000000000003" y1="263.20" x2="343.1" y2="263.20" stroke="#333" stroke-width="0.6"/>
<text x="339.20" y="265.40" text-anchor="end" font-size="6.2" fill="#4d4d4d" stroke="#4d4d4d" stroke-width="0.07" transform="rotate(0.05 339.20 265.40)">800</text>
<line x1="349.92" y1="284.1" x2="349.92" y2="286.3" stroke="#333" stroke-width="0.6"/>
<text transform="translate(352.12,287.30) rotate(-90) rotate(0.05)" text-anchor="end" font-size="6.2" fill="#4d4d4d" stroke="#4d4d4d" stroke-width="0.07">REF_Def</text>
<line x1="361.28" y1="284.1" x2="361.28" y2="286.3" stroke="#333" stroke-width="0.6"/>
<text transform="translate(363.48,287.30) rotate(-90) rotate(0.05)" text-anchor="end" font-size="6.2" fill="#4d4d4d" stroke="#4d4d4d" stroke-width="0.07">2°C_Def</text>
<line x1="372.65" y1="284.1" x2="372.65" y2="286.3" stroke="#333" stroke-width="0.6"/>
<text transform="translate(374.85,287.30) rotate(-90) rotate(0.05)" text-anchor="end" font-size="6.2" fill="#4d4d4d" stroke="#4d4d4d" stroke-width="0.07">2°C_Sust</text>
<line x1="384.02" y1="284.1" x2="384.02" y2="286.3" stroke="#333" stroke-width="0.6"/>
<text transform="translate(386.22,287.30) rotate(-90) rotate(0.05)" text-anchor="end" font-size="6.2" fill="#4d4d4d" stroke="#4d4d4d" stroke-width="0.07">1.5°C_Def</text>
<line x1="395.38" y1="284.1" x2="395.38" y2="286.3" stroke="#333" stroke-width="0.6"/>
<text transform="translate(397.58,287.30) rotate(-90) rotate(0.05)" text-anchor="end" font-size="6.2" fill="#4d4d4d" stroke="#4d4d4d" stroke-width="0.07">1.5°C_Sust</text>
<line x1="23.7" y1="327.2" x2="36.0" y2="327.2" stroke="#333" stroke-width="1.2" stroke-dasharray="1.2 2.45"/>
<text x="40" y="329.9" font-size="7.75" fill="#000" stroke="#000" stroke-width="0.07" transform="rotate(0.05 40 329.9)">REF_Def</text>
<line x1="79.5" y1="326.5" x2="91.4" y2="326.5" stroke="#3535d0" stroke-width="1.2"/>
<text x="94.8" y="329.9" font-size="7.75" fill="#000" stroke="#000" stroke-width="0.07" transform="rotate(0.05 94.8 329.9)">2°C_Def</text>
<rect x="133" y="324.2" width="11.9" height="3.6" fill="#4cf54c"/>
<text x="148.8" y="329.9" font-size="7.75" fill="#000" stroke="#000" stroke-width="0.07" transform="rotate(0.05 148.8 329.9)">1.5°C_Sust</text>
<rect x="197.6" y="324.0" width="12.1" height="3.6" fill="#4d4dff"/>
<text x="213.4" y="329.9" font-size="7.75" fill="#000" stroke="#000" stroke-width="0.07" transform="rotate(0.05 213.4 329.9)">1.5°C_Def</text>
</svg></body></html>
